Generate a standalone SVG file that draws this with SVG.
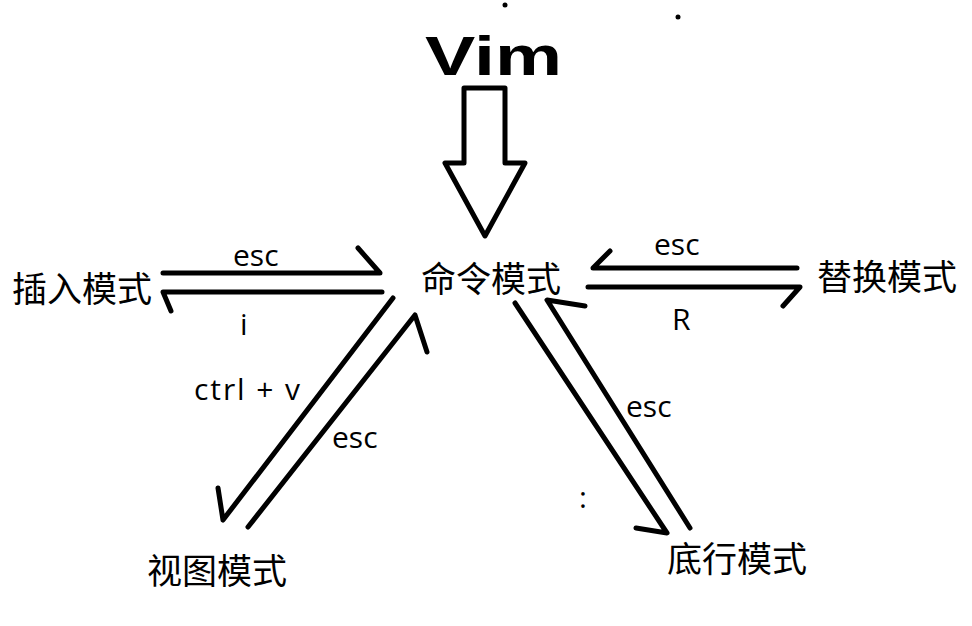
<svg xmlns="http://www.w3.org/2000/svg" width="972" height="626" viewBox="0 0 972 626">
<style>
.ln{fill:none;stroke:#000;stroke-width:5;stroke-linecap:round;stroke-linejoin:round}
.cn{font-family:"Noto Sans CJK SC","Noto Sans",sans-serif;font-size:35px;fill:#000}
.lb{font-family:"Open Sans","Liberation Sans",sans-serif;font-size:30px;fill:#000}
</style>
<rect width="972" height="626" fill="#fff"/>
<g id="title">
<text x="425" y="75" font-family="Liberation Sans, sans-serif" font-size="56" font-weight="bold" textLength="137" lengthAdjust="spacingAndGlyphs">Vim</text>
<circle cx="505" cy="5" r="2.5" fill="#000"/>
<circle cx="678" cy="17" r="2.5" fill="#000"/>
</g>
<g id="bigarrow">
<path class="ln" d="M464 88 H505 V163 H525 L485 236 L445 163 H464 Z" stroke-linecap="butt" stroke-linejoin="miter"/>
</g>
<g id="cmd"><text class="cn" x="421" y="292">命令模式</text></g>
<g id="insert"><text class="cn" x="12" y="302">插入模式</text></g>
<g id="replace"><text class="cn" x="817" y="290">替换模式</text></g>
<g id="visual"><text class="cn" x="147" y="584">视图模式</text></g>
<g id="bottom"><text class="cn" x="667" y="572">底行模式</text></g>
<g id="connectors">
<path class="ln" d="M163 273 H380 L358 248"/>
<path class="ln" d="M382 292 H163 L171 311"/>
<path class="ln" d="M797 268 H593 L610 251"/>
<path class="ln" d="M588 287 H800 L783 306"/>
<path class="ln" d="M393 298 L223 520 L218 488"/>
<path class="ln" d="M248 527 L415 315 L427 352"/>
<path class="ln" d="M515 303 L667 533 L636 528"/>
<path class="ln" d="M690 528 L547 300 L585 306"/>
</g>
<g id="labels">
<text class="lb" x="233" y="266">esc</text>
<text class="lb" x="240" y="335">i</text>
<text class="lb" x="654" y="255">esc</text>
<text class="lb" x="672" y="330">R</text>
<text class="lb" x="194" y="400" textLength="106">ctrl + v</text>
<text class="lb" x="332" y="448">esc</text>
<text class="lb" x="626" y="417">esc</text>
<text class="lb" x="579" y="508">:</text>
</g>
</svg>
